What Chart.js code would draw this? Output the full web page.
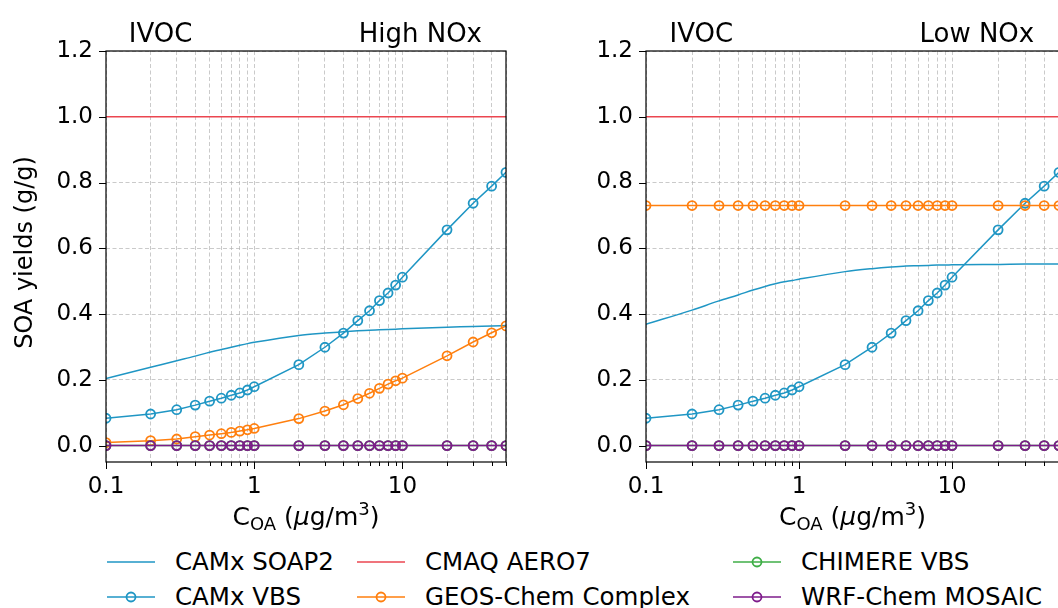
<!DOCTYPE html>
<html>
<head>
<meta charset="utf-8">
<script src="https://cdn.jsdelivr.net/npm/chart.js@4.4.1/dist/chart.umd.min.js"></script>
<style>
  html, body { margin: 0; padding: 0; background: #fff; }
  #wrap { position: relative; width: 1058px; height: 608px; overflow: hidden; background: #fff; font-family: "DejaVu Sans", sans-serif; }
  #cHigh { position: absolute; left: 0; top: 0; }
  #cLow { position: absolute; left: 540px; top: 0; }
  #legend { position: absolute; left: 107px; top: 544px; display: grid; grid-auto-flow: column;
            grid-template-rows: 35px 35px; grid-template-columns: 250px 376px auto; }
  .item { display: flex; align-items: center; font-size: 24.5px; color: #000; white-space: nowrap; }
  .item svg { margin-right: 20px; flex: none; }
</style>
</head>
<body>
<div id="wrap">
  <canvas id="cHigh" width="520" height="540"></canvas>
  <canvas id="cLow" width="530" height="540"></canvas>
  <div id="legend"></div>
</div>
<script>
// C_OA grid (ug/m3) shared by all curves
const coa = [0.1, 0.2, 0.3, 0.4, 0.5, 0.6, 0.7, 0.8, 0.9, 1, 2, 3, 4, 5, 6, 7, 8, 9, 10, 20, 30, 40, 50];
const xTicks = [0.1, 0.2, 0.3, 0.4, 0.5, 0.6, 0.7, 0.8, 0.9, 1, 2, 3, 4, 5, 6, 7, 8, 9, 10, 20, 30, 40, 50];
const xMajor = [0.1, 1, 10];
const yTicks = [0, 0.2, 0.4, 0.6, 0.8, 1.0, 1.2];

// high NOx panel
const soap2High = [0.204, 0.238, 0.258, 0.272, 0.284, 0.292, 0.299, 0.305, 0.310, 0.314, 0.335, 0.342, 0.346, 0.349, 0.351, 0.352, 0.353, 0.354, 0.355, 0.360, 0.362, 0.364, 0.365];
const vbsHigh   = [0.083, 0.096, 0.109, 0.123, 0.135, 0.144, 0.153, 0.160, 0.169, 0.179, 0.246, 0.299, 0.342, 0.380, 0.410, 0.441, 0.464, 0.488, 0.512, 0.656, 0.737, 0.789, 0.831];
const aero7High = [1, 1, 1, 1, 1, 1, 1, 1, 1, 1, 1, 1, 1, 1, 1, 1, 1, 1, 1, 1, 1, 1, 1];
const geosHigh  = [0.009, 0.015, 0.020, 0.027, 0.032, 0.036, 0.040, 0.044, 0.048, 0.052, 0.082, 0.105, 0.124, 0.143, 0.159, 0.174, 0.187, 0.197, 0.205, 0.273, 0.315, 0.343, 0.364];
const chimHigh  = [0, 0, 0, 0, 0, 0, 0, 0, 0, 0, 0, 0, 0, 0, 0, 0, 0, 0, 0, 0, 0, 0, 0];
const wrfHigh   = [0, 0, 0, 0, 0, 0, 0, 0, 0, 0, 0, 0, 0, 0, 0, 0, 0, 0, 0, 0, 0, 0, 0];

// low NOx panel
const soap2Low = [0.369, 0.412, 0.440, 0.458, 0.473, 0.484, 0.492, 0.498, 0.502, 0.506, 0.529, 0.538, 0.543, 0.546, 0.547, 0.548, 0.549, 0.549, 0.550, 0.551, 0.552, 0.552, 0.552];
const vbsLow   = [0.083, 0.096, 0.109, 0.123, 0.135, 0.144, 0.153, 0.160, 0.169, 0.179, 0.246, 0.299, 0.342, 0.380, 0.410, 0.441, 0.464, 0.488, 0.512, 0.656, 0.737, 0.789, 0.831];
const aero7Low = [1, 1, 1, 1, 1, 1, 1, 1, 1, 1, 1, 1, 1, 1, 1, 1, 1, 1, 1, 1, 1, 1, 1];
const geosLow  = [0.73, 0.73, 0.73, 0.73, 0.73, 0.73, 0.73, 0.73, 0.73, 0.73, 0.73, 0.73, 0.73, 0.73, 0.73, 0.73, 0.73, 0.73, 0.73, 0.73, 0.73, 0.73, 0.73];
const chimLow  = [0, 0, 0, 0, 0, 0, 0, 0, 0, 0, 0, 0, 0, 0, 0, 0, 0, 0, 0, 0, 0, 0, 0];
const wrfLow   = [0, 0, 0, 0, 0, 0, 0, 0, 0, 0, 0, 0, 0, 0, 0, 0, 0, 0, 0, 0, 0, 0, 0];

const seriesNames  = ['CAMx SOAP2', 'CAMx VBS', 'CMAQ AERO7', 'GEOS-Chem Complex', 'CHIMERE VBS', 'WRF-Chem MOSAIC'];
const seriesColors = ['#1f96c4', '#1f96c4', '#eb4650', '#ff7f0e', '#3fae47', '#7e1c8b'];
const seriesMarker = [false, true, false, true, true, true];

const FONT = '"DejaVu Sans", sans-serif';

function buildSets(values) {
  return values.map((vals, i) => ({
    label: seriesNames[i],
    data: coa.map((x, j) => ({ x, y: vals[j] })),
    borderColor: seriesColors[i],
    backgroundColor: 'transparent',
    borderWidth: 1.5,
    pointRadius: seriesMarker[i] ? 4.5 : 0,
    pointBorderWidth: 1.8,
    pointBorderColor: seriesColors[i],
    pointBackgroundColor: 'transparent',
    cubicInterpolationMode: i === 0 ? 'monotone' : 'default',
    tension: 0,
    clip: 0,
    order: values.length - i
  }));
}

// frame, tick marks and texts matplotlib-style
const panelDeco = {
  id: 'panelDeco',
  afterDatasetsDraw(chart, args, opts) {
    const { ctx, chartArea: a, scales: { x, y } } = chart;
    ctx.save();
    ctx.strokeStyle = '#000';
    ctx.lineWidth = 1.2;
    ctx.strokeRect(a.left, a.top, a.right - a.left, a.bottom - a.top);
    ctx.lineWidth = 1;
    ctx.beginPath();
    for (const v of xTicks) {
      const px = Math.round(x.getPixelForValue(v)) + 0.5;
      const len = xMajor.includes(v) ? 7 : 4;
      ctx.moveTo(px, a.bottom);
      ctx.lineTo(px, a.bottom + len);
    }
    for (const v of yTicks) {
      const py = Math.round(y.getPixelForValue(v)) + 0.5;
      ctx.moveTo(a.left, py);
      ctx.lineTo(a.left - 7, py);
    }
    ctx.stroke();

    ctx.fillStyle = '#000';
    ctx.textBaseline = 'alphabetic';
    const w = a.right - a.left;
    ctx.font = '26px ' + FONT;
    ctx.textAlign = 'left';
    ctx.fillText('IVOC', a.left + 0.057 * w, 42);
    ctx.textAlign = 'right';
    ctx.fillText(opts.tag, a.right - 0.06 * w, 42);

    // y title (left panel only)
    if (opts.yTitle) {
      ctx.save();
      ctx.font = '24px ' + FONT;
      ctx.textAlign = 'center';
      ctx.translate(32, (a.top + a.bottom) / 2 - 4);
      ctx.rotate(-Math.PI / 2);
      ctx.fillText(opts.yTitle, 0, 0);
      ctx.restore();
    }

    // x title with sub/superscript
    const parts = [
      ['C', '25px ' + FONT, 0], ['OA', '18px ' + FONT, 5], [' (', '25px ' + FONT, 0],
      ['\u03bc', 'italic 25px ' + FONT, 0], ['g/m', '25px ' + FONT, 0], ['3', '18px ' + FONT, -10], [')', '25px ' + FONT, 0]
    ];
    let total = 0;
    for (const p of parts) { ctx.font = p[1]; total += ctx.measureText(p[0]).width; }
    let cx = (a.left + a.right) / 2 - total / 2;
    ctx.textAlign = 'left';
    for (const p of parts) {
      ctx.font = p[1];
      ctx.fillText(p[0], cx, 525 + p[2]);
      cx += ctx.measureText(p[0]).width;
    }
    ctx.restore();
  }
};

function makeChart(id, values, tag, yTitle, padRight) {
  return new Chart(document.getElementById(id), {
    type: 'line',
    data: { datasets: buildSets(values) },
    options: {
      responsive: false,
      animation: false,
      events: [],
      layout: { padding: { left: 0, top: 51, right: padRight, bottom: 0 } },
      plugins: { legend: { display: false }, tooltip: { enabled: false }, panelDeco: { tag, yTitle } },
      scales: {
        x: {
          type: 'logarithmic', min: 0.1, max: 50,
          afterBuildTicks: s => { s.ticks = xTicks.map(v => ({ value: v })); },
          afterFit: s => { s.height = 78; },
          grid: { color: 'rgba(176,176,176,0.85)', lineWidth: 0.8, drawTicks: false },
          border: { display: false, dash: [4, 2.5] },
          ticks: {
            autoSkip: false, maxRotation: 0, padding: 11, color: '#000',
            font: { family: FONT, size: 23 },
            callback: v => xMajor.includes(v) ? String(v) : ''
          }
        },
        y: {
          min: -0.05, max: 1.2,
          afterBuildTicks: s => { s.ticks = yTicks.map(v => ({ value: v })); },
          afterFit: s => { s.width = 106; },
          grid: { color: 'rgba(176,176,176,0.85)', lineWidth: 0.8, drawTicks: false },
          border: { display: false, dash: [4, 2.5] },
          ticks: {
            padding: 13, color: '#000',
            font: { family: FONT, size: 23 },
            callback: v => Number(v).toFixed(1)
          }
        }
      }
    },
    plugins: [panelDeco]
  });
}

makeChart('cHigh', [soap2High, vbsHigh, aero7High, geosHigh, chimHigh, wrfHigh], 'High NOx', 'SOA yields (g/g)', 14);
makeChart('cLow', [soap2Low, vbsLow, aero7Low, geosLow, chimLow, wrfLow], 'Low NOx', '', 11);

// legend, 3 columns filled column-wise
const legend = document.getElementById('legend');
seriesNames.forEach((name, i) => {
  const c = seriesColors[i];
  const mk = seriesMarker[i] ? `<circle cx="24" cy="8" r="4.5" fill="none" stroke="${c}" stroke-width="1.8"/>` : '';
  const el = document.createElement('div');
  el.className = 'item';
  el.innerHTML = `<svg width="48" height="16"><line x1="0" y1="8" x2="48" y2="8" stroke="${c}" stroke-width="1.6"/>${mk}</svg><span>${name}</span>`;
  legend.appendChild(el);
});
</script>
</body>
</html>
